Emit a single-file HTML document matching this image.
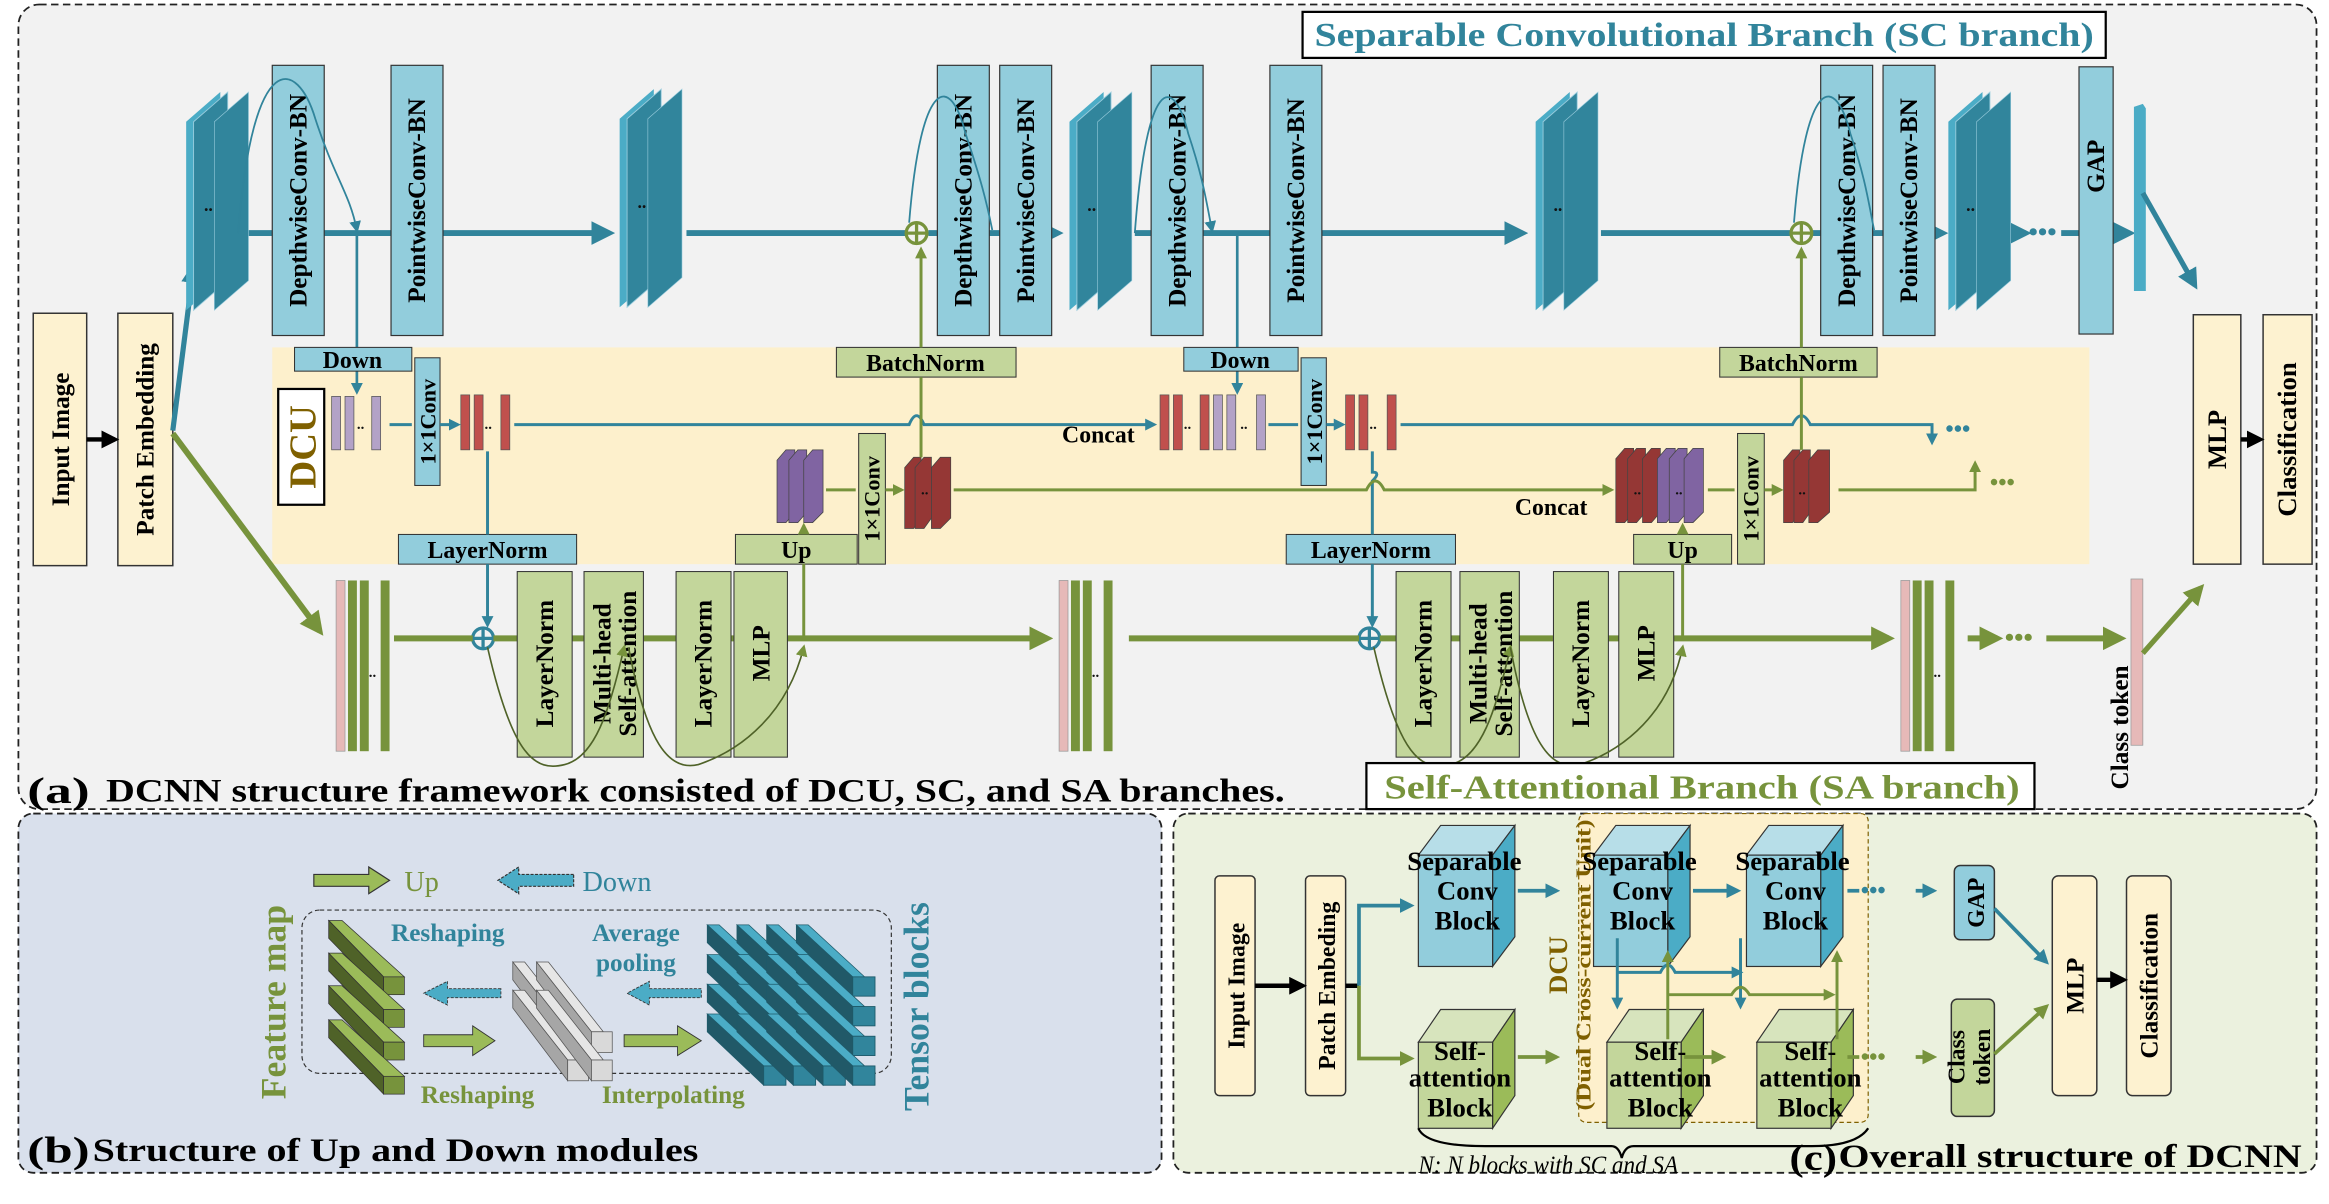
<!DOCTYPE html>
<html><head><meta charset="utf-8"><style>
html,body{margin:0;padding:0;background:#fff}
svg{display:block}
text{font-family:"Liberation Serif",serif;font-weight:bold}
</style></head><body>
<svg width="2329" height="1204" viewBox="0 0 1568 811" xmlns="http://www.w3.org/2000/svg">
<defs>
<marker id="at" markerWidth="4" markerHeight="4" refX="3" refY="2" orient="auto" markerUnits="strokeWidth"><path d="M0,0 L4,2 L0,4 z" fill="#31849b"/></marker>
<marker id="ag" markerWidth="4" markerHeight="4" refX="3" refY="2" orient="auto" markerUnits="strokeWidth"><path d="M0,0 L4,2 L0,4 z" fill="#77933c"/></marker>
<marker id="ak" markerWidth="4" markerHeight="4" refX="3" refY="2" orient="auto" markerUnits="strokeWidth"><path d="M0,0 L4,2 L0,4 z" fill="#000"/></marker>
<marker id="ats" markerWidth="8" markerHeight="8" refX="6" refY="4" orient="auto" markerUnits="userSpaceOnUse"><path d="M0,0 L8,4 L0,8 z" fill="#31849b"/></marker>
<marker id="ags" markerWidth="8" markerHeight="8" refX="6" refY="4" orient="auto" markerUnits="userSpaceOnUse"><path d="M0,0 L8,4 L0,8 z" fill="#77933c"/></marker>
<g id="scst">
<polygon points="0,20 23,0 23,127 0,147" fill="#4bacc6"/>
<polygon points="5,20 28,0 28,127 5,147" fill="#31859c" stroke="#9cd" stroke-width="0.6"/>
<polygon points="19,20 42,0 42,127 19,147" fill="#31859c" stroke="#9cd" stroke-width="0.4"/>
<text x="12" y="80" font-size="12" fill="#111">..</text>
</g>
<g id="saSt">
<rect x="0" y="0" width="6" height="115" fill="#e6b9b8" stroke="#999" stroke-width="0.5"/>
<rect x="8" y="0" width="6" height="115" fill="#77933c"/>
<rect x="16" y="0" width="6" height="115" fill="#77933c"/>
<rect x="30" y="0" width="6" height="115" fill="#77933c"/>
<text x="22" y="65" font-size="10" fill="#111">..</text>
</g>
<g id="gbar">
<polygon points="0,0 9,0 51,38 37,38" fill="#9bbb59" stroke="#333" stroke-width="0.5"/>
<polygon points="0,0 37,38 37,50 0,12" fill="#4f6228" stroke="#333" stroke-width="0.5"/>
<rect x="37" y="38" width="14" height="12" fill="#77933c" stroke="#333" stroke-width="0.5"/>
</g>
<g id="wbar">
<polygon points="0,0 8,0 45,47 37,47" fill="#e6e6e6" stroke="#555" stroke-width="0.5"/>
<polygon points="0,0 37,47 37,61 0,12" fill="#a6a6a6" stroke="#555" stroke-width="0.5"/>
<rect x="37" y="47" width="14" height="14" fill="#d9d9d9" stroke="#555" stroke-width="0.5"/>
</g>
<g id="tbar">
<polygon points="0,0 8,0 46,35 38,35" fill="#4bacc6" stroke="#1e5a6a" stroke-width="0.5"/>
<polygon points="0,0 38,35 38,48 0,12" fill="#215968" stroke="#1e5a6a" stroke-width="0.5"/>
<rect x="38" y="35" width="15" height="13" fill="#31859c" stroke="#1e5a6a" stroke-width="0.6"/>
</g>
</defs>

<!-- Panel a -->
<rect x="12" y="3" width="1548" height="542" rx="14" fill="#f2f2f2" stroke="#222" stroke-dasharray="5,3" stroke-width="1.2"/>
<rect x="183" y="234" width="1224" height="146" fill="#fdf0cc"/>
<rect x="877" y="8" width="541" height="31" fill="#fff" stroke="#000" stroke-width="1.5"/>
<text x="885" y="31" font-size="23" fill="#31849b" textLength="525" lengthAdjust="spacingAndGlyphs">Separable Convolutional Branch (SC branch)</text>

<rect x="22" y="211" width="36" height="170" fill="#fdf2d0" stroke="#333"/>
<text transform="rotate(-90 40 296)" x="40" y="302" font-size="17" text-anchor="middle">Input Image</text>
<rect x="79" y="211" width="37" height="170" fill="#fdf2d0" stroke="#333"/>
<text transform="rotate(-90 97 296)" x="97" y="302" font-size="17" text-anchor="middle">Patch Embedding</text>
<line x1="58" y1="296" x2="77" y2="296" stroke="#000" stroke-width="3" marker-end="url(#ak)"/>
<line x1="116" y1="290" x2="130" y2="180" stroke="#31849b" stroke-width="3.5" marker-end="url(#at)"/>
<line x1="116" y1="292" x2="215" y2="425" stroke="#77933c" stroke-width="4" marker-end="url(#ag)"/>

<line x1="160" y1="157" x2="410" y2="157" stroke="#31849b" stroke-width="4" marker-end="url(#at)"/>
<line x1="462" y1="157" x2="610" y2="157" stroke="#31849b" stroke-width="4"/>
<line x1="625" y1="157" x2="712" y2="157" stroke="#31849b" stroke-width="4" marker-end="url(#at)"/>
<line x1="764" y1="157" x2="1025" y2="157" stroke="#31849b" stroke-width="4" marker-end="url(#at)"/>
<line x1="1078" y1="157" x2="1206" y2="157" stroke="#31849b" stroke-width="4"/>
<line x1="1220" y1="157" x2="1308" y2="157" stroke="#31849b" stroke-width="4" marker-end="url(#at)"/>
<line x1="1358" y1="157" x2="1364" y2="157" stroke="#31849b" stroke-width="4" marker-end="url(#at)"/>
<text x="1366" y="162" font-size="18" fill="#31849b">•••</text>
<line x1="1388" y1="157" x2="1400" y2="157" stroke="#31849b" stroke-width="4"/>
<line x1="1423" y1="157" x2="1434" y2="157" stroke="#31849b" stroke-width="4" marker-end="url(#at)"/>

<use href="#scst" x="125" y="62"/>
<use href="#scst" x="417" y="60"/>
<use href="#scst" x="720" y="62"/>
<use href="#scst" x="1034" y="62"/>
<use href="#scst" x="1312" y="62"/>

<g font-size="17">
<rect x="183" y="44" width="35" height="182" fill="#92cddc" stroke="#333" stroke-width="0.8"/>
<text transform="rotate(-90 200 135)" x="200" y="141" text-anchor="middle">DepthwiseConv-BN</text>
<rect x="263" y="44" width="35" height="182" fill="#92cddc" stroke="#333" stroke-width="0.8"/>
<text transform="rotate(-90 280 135)" x="280" y="141" text-anchor="middle">PointwiseConv-BN</text>
<rect x="631" y="44" width="35" height="182" fill="#92cddc" stroke="#333" stroke-width="0.8"/>
<text transform="rotate(-90 648 135)" x="648" y="141" text-anchor="middle">DepthwiseConv-BN</text>
<rect x="673" y="44" width="35" height="182" fill="#92cddc" stroke="#333" stroke-width="0.8"/>
<text transform="rotate(-90 690 135)" x="690" y="141" text-anchor="middle">PointwiseConv-BN</text>
<rect x="775" y="44" width="35" height="182" fill="#92cddc" stroke="#333" stroke-width="0.8"/>
<text transform="rotate(-90 792 135)" x="792" y="141" text-anchor="middle">DepthwiseConv-BN</text>
<rect x="855" y="44" width="35" height="182" fill="#92cddc" stroke="#333" stroke-width="0.8"/>
<text transform="rotate(-90 872 135)" x="872" y="141" text-anchor="middle">PointwiseConv-BN</text>
<rect x="1226" y="44" width="35" height="182" fill="#92cddc" stroke="#333" stroke-width="0.8"/>
<text transform="rotate(-90 1243 135)" x="1243" y="141" text-anchor="middle">DepthwiseConv-BN</text>
<rect x="1268" y="44" width="35" height="182" fill="#92cddc" stroke="#333" stroke-width="0.8"/>
<text transform="rotate(-90 1285 135)" x="1285" y="141" text-anchor="middle">PointwiseConv-BN</text>
<rect x="1400" y="45" width="23" height="180" fill="#92cddc" stroke="#333" stroke-width="0.8"/>
<text transform="rotate(-90 1411 112)" x="1411" y="118" text-anchor="middle">GAP</text>
</g>
<polygon points="1437,72 1443,70 1445,73 1445,196 1437,196" fill="#4bacc6"/>
<line x1="1443" y1="130" x2="1478" y2="192" stroke="#31849b" stroke-width="3.5" marker-end="url(#at)"/>

<g fill="none" stroke="#31849b" stroke-width="1.2">
<path d="M160,157 C170,30 200,40 212,80 C225,120 235,130 240,155" marker-end="url(#ats)"/>
<path d="M612,150 C620,50 640,50 650,90 C660,120 664,135 668,155"/>
<path d="M764,157 C772,50 790,50 800,90 C810,120 812,135 816,155" marker-end="url(#ats)"/>
<path d="M1208,150 C1216,50 1236,50 1246,90 C1256,120 1258,135 1262,155"/>
</g>
<line x1="240" y1="157" x2="240" y2="264" stroke="#31849b" stroke-width="1.8" marker-end="url(#ats)"/>
<line x1="833" y1="157" x2="833" y2="264" stroke="#31849b" stroke-width="1.8" marker-end="url(#ats)"/>

<g fill="none" stroke="#77933c" stroke-width="2.2">
<circle cx="617" cy="157" r="7"/><line x1="610" y1="157" x2="624" y2="157"/><line x1="617" y1="150" x2="617" y2="164"/>
<circle cx="1213" cy="157" r="7"/><line x1="1206" y1="157" x2="1220" y2="157"/><line x1="1213" y1="150" x2="1213" y2="164"/>
</g>
<g fill="none" stroke="#31849b" stroke-width="2.2">
<circle cx="325" cy="430" r="7"/><line x1="318" y1="430" x2="332" y2="430"/><line x1="325" y1="423" x2="325" y2="437"/>
<circle cx="922" cy="430" r="7"/><line x1="915" y1="430" x2="929" y2="430"/><line x1="922" y1="423" x2="922" y2="437"/>
</g>

<rect x="187" y="262" width="31" height="78" fill="#fff" stroke="#000" stroke-width="1.5"/>
<text transform="rotate(-90 203 301)" x="203" y="310" font-size="26" fill="#7f6000" text-anchor="middle">DCU</text>

<g font-size="16">
<rect x="198" y="234" width="79" height="16" fill="#92cddc" stroke="#333" stroke-width="0.7"/>
<text x="237" y="248" text-anchor="middle">Down</text>
<rect x="797" y="234" width="77" height="16" fill="#92cddc" stroke="#333" stroke-width="0.7"/>
<text x="835" y="248" text-anchor="middle">Down</text>
<rect x="563" y="234" width="121" height="20" fill="#c3d69b" stroke="#333" stroke-width="0.7"/>
<text x="623" y="250" text-anchor="middle">BatchNorm</text>
<rect x="1158" y="234" width="106" height="20" fill="#c3d69b" stroke="#333" stroke-width="0.7"/>
<text x="1211" y="250" text-anchor="middle">BatchNorm</text>
<rect x="268" y="360" width="120" height="20" fill="#92cddc" stroke="#333" stroke-width="0.7"/>
<text x="328" y="376" text-anchor="middle">LayerNorm</text>
<rect x="866" y="360" width="114" height="20" fill="#92cddc" stroke="#333" stroke-width="0.7"/>
<text x="923" y="376" text-anchor="middle">LayerNorm</text>
<rect x="495" y="360" width="82" height="20" fill="#c3d69b" stroke="#333" stroke-width="0.7"/>
<text x="536" y="376" text-anchor="middle">Up</text>
<rect x="1100" y="360" width="66" height="20" fill="#c3d69b" stroke="#333" stroke-width="0.7"/>
<text x="1133" y="376" text-anchor="middle">Up</text>
</g>
<g font-size="15">
<rect x="279" y="241" width="17" height="86" fill="#92cddc" stroke="#333" stroke-width="0.7"/>
<text transform="rotate(-90 288 284)" x="288" y="289" text-anchor="middle">1×1Conv</text>
<rect x="876" y="241" width="17" height="86" fill="#92cddc" stroke="#333" stroke-width="0.7"/>
<text transform="rotate(-90 885 284)" x="885" y="289" text-anchor="middle">1×1Conv</text>
<rect x="578" y="292" width="18" height="88" fill="#c3d69b" stroke="#333" stroke-width="0.7"/>
<text transform="rotate(-90 587 336)" x="587" y="341" text-anchor="middle">1×1Conv</text>
<rect x="1170" y="292" width="18" height="88" fill="#c3d69b" stroke="#333" stroke-width="0.7"/>
<text transform="rotate(-90 1179 336)" x="1179" y="341" text-anchor="middle">1×1Conv</text>
</g>

<g stroke="#555" stroke-width="0.5">
<rect x="223" y="267" width="6" height="36" fill="#b3a2c7"/><rect x="232" y="267" width="6" height="36" fill="#b3a2c7"/><rect x="250" y="267" width="6" height="36" fill="#b3a2c7"/>
<rect x="310" y="266" width="6" height="37" fill="#c0504d"/><rect x="319" y="266" width="6" height="37" fill="#c0504d"/><rect x="337" y="266" width="6" height="37" fill="#c0504d"/>
<rect x="781" y="266" width="6" height="37" fill="#c0504d"/><rect x="790" y="266" width="6" height="37" fill="#c0504d"/><rect x="808" y="266" width="6" height="37" fill="#c0504d"/><rect x="817" y="266" width="6" height="37" fill="#b3a2c7"/><rect x="826" y="266" width="6" height="37" fill="#b3a2c7"/><rect x="846" y="266" width="6" height="37" fill="#b3a2c7"/>
<rect x="906" y="266" width="6" height="37" fill="#c0504d"/><rect x="915" y="266" width="6" height="37" fill="#c0504d"/><rect x="934" y="266" width="6" height="37" fill="#c0504d"/>
</g>
<g font-size="10" fill="#111"><text x="240" y="289">..</text><text x="326" y="289">..</text><text x="797" y="289">..</text><text x="835" y="289">..</text><text x="922" y="289">..</text></g>
<g stroke="#444" stroke-width="0.5">
<polygon points="523,310 529,303 535,303 535,345 529,352 523,352" fill="#8064a2"/>
<polygon points="531,310 537,303 543,303 543,345 537,352 531,352" fill="#8064a2"/>
<polygon points="541,310 547,303 554,303 554,345 547,352 541,352" fill="#8064a2"/>
<polygon points="609,315 615,308 620,308 620,349 615,356 609,356" fill="#953735"/>
<polygon points="616,315 622,308 627,308 627,349 622,356 616,356" fill="#953735"/>
<polygon points="627,315 633,308 640,308 640,349 633,356 627,356" fill="#953735"/>
<polygon points="1088,309 1094,302 1100,302 1100,345 1094,352 1088,352" fill="#953735"/>
<polygon points="1096,309 1102,302 1108,302 1108,345 1102,352 1096,352" fill="#953735"/>
<polygon points="1106,309 1112,302 1118,302 1118,345 1112,352 1106,352" fill="#953735"/>
<polygon points="1116,309 1122,302 1128,302 1128,345 1122,352 1116,352" fill="#8064a2"/>
<polygon points="1124,309 1130,302 1136,302 1136,345 1130,352 1124,352" fill="#8064a2"/>
<polygon points="1134,309 1140,302 1147,302 1147,345 1140,352 1134,352" fill="#8064a2"/>
<polygon points="1201,310 1207,303 1212,303 1212,345 1207,352 1201,352" fill="#953735"/>
<polygon points="1208,310 1214,303 1219,303 1219,345 1214,352 1208,352" fill="#953735"/>
<polygon points="1218,310 1224,303 1232,303 1232,345 1224,352 1218,352" fill="#953735"/>
</g>
<g font-size="10" fill="#111"><text x="620" y="333">..</text><text x="1100" y="333">..</text><text x="1128" y="333">..</text><text x="1211" y="333">..</text></g>

<g fill="none" stroke="#31849b" stroke-width="2">
<line x1="262" y1="286" x2="277" y2="286"/>
<line x1="296" y1="286" x2="308" y2="286" marker-end="url(#ats)"/>
<path d="M346,286 L612,286 Q617,274 622,286 L777,286" marker-end="url(#ats)"/>
<line x1="854" y1="286" x2="874" y2="286"/>
<line x1="893" y1="286" x2="904" y2="286" marker-end="url(#ats)"/>
<path d="M943,286 L1207,286 Q1213,274 1219,286 L1301,286 L1301,298" marker-end="url(#ats)"/>
<path d="M328,304 L328,360"/>
<path d="M328,380 L328,421" marker-end="url(#ats)"/>
<path d="M924,304 L924,318 Q930,318 924,324 L924,360"/>
<path d="M924,380 L924,421" marker-end="url(#ats)"/>
</g>
<g fill="none" stroke="#77933c" stroke-width="2">
<path d="M556,330 L576,330"/>
<line x1="596" y1="330" x2="607" y2="330" marker-end="url(#ags)"/>
<path d="M642,330 L920,330 Q926,318 932,330 L1085,330" marker-end="url(#ags)"/>
<line x1="1150" y1="330" x2="1168" y2="330"/>
<line x1="1188" y1="330" x2="1199" y2="330" marker-end="url(#ags)"/>
<path d="M1238,330 L1330,330 L1330,312" marker-end="url(#ags)"/>
<path d="M620,308 L620,254"/>
<path d="M620,234 L620,168" marker-end="url(#ags)"/>
<path d="M1213,303 L1213,254"/>
<path d="M1213,234 L1213,168" marker-end="url(#ags)"/>
<path d="M541,430 L541,380"/>
<path d="M541,360 L541,354" marker-end="url(#ags)"/>
<path d="M1133,430 L1133,380"/>
<path d="M1133,360 L1133,354" marker-end="url(#ags)"/>
</g>
<text x="1310" y="294" font-size="16" fill="#31849b">•••</text>
<text x="1340" y="330" font-size="16" fill="#77933c">•••</text>
<text x="715" y="298" font-size="16">Concat</text>
<text x="1020" y="347" font-size="16">Concat</text>

<line x1="265" y1="430" x2="318" y2="430" stroke="#77933c" stroke-width="4"/>
<line x1="332" y1="430" x2="705" y2="430" stroke="#77933c" stroke-width="4" marker-end="url(#ag)"/>
<line x1="760" y1="430" x2="915" y2="430" stroke="#77933c" stroke-width="4"/>
<line x1="929" y1="430" x2="1272" y2="430" stroke="#77933c" stroke-width="4" marker-end="url(#ag)"/>
<line x1="1325" y1="430" x2="1345" y2="430" stroke="#77933c" stroke-width="4" marker-end="url(#ag)"/>
<text x="1350" y="435" font-size="18" fill="#77933c">•••</text>
<line x1="1378" y1="430" x2="1428" y2="430" stroke="#77933c" stroke-width="4" marker-end="url(#ag)"/>
<use href="#saSt" x="226" y="391"/>
<use href="#saSt" x="713" y="391"/>
<use href="#saSt" x="1280" y="391"/>
<rect x="1435" y="390" width="8" height="112" fill="#e6b9b8" stroke="#999" stroke-width="0.5"/>
<line x1="1443" y1="440" x2="1482" y2="396" stroke="#77933c" stroke-width="3.5" marker-end="url(#ag)"/>
<text transform="rotate(-90 1427 490)" x="1427" y="496" font-size="17" text-anchor="middle">Class token</text>

<g font-size="17">
<rect x="348" y="385" width="37" height="125" fill="#c3d69b" stroke="#333" stroke-width="0.7"/>
<text transform="rotate(-90 366 447)" x="366" y="453" text-anchor="middle">LayerNorm</text>
<rect x="393" y="385" width="40" height="125" fill="#c3d69b" stroke="#333" stroke-width="0.7"/>
<text transform="rotate(-90 413 447)" x="413" y="445" text-anchor="middle">Multi-head</text>
<text transform="rotate(-90 413 447)" x="413" y="462" text-anchor="middle">Self-attention</text>
<rect x="455" y="385" width="37" height="125" fill="#c3d69b" stroke="#333" stroke-width="0.7"/>
<text transform="rotate(-90 473 447)" x="473" y="453" text-anchor="middle">LayerNorm</text>
<rect x="494" y="385" width="36" height="125" fill="#c3d69b" stroke="#333" stroke-width="0.7"/>
<text transform="rotate(-90 512 440)" x="512" y="446" text-anchor="middle">MLP</text>
<rect x="940" y="385" width="37" height="125" fill="#c3d69b" stroke="#333" stroke-width="0.7"/>
<text transform="rotate(-90 958 447)" x="958" y="453" text-anchor="middle">LayerNorm</text>
<rect x="983" y="385" width="40" height="125" fill="#c3d69b" stroke="#333" stroke-width="0.7"/>
<text transform="rotate(-90 1003 447)" x="1003" y="445" text-anchor="middle">Multi-head</text>
<text transform="rotate(-90 1003 447)" x="1003" y="462" text-anchor="middle">Self-attention</text>
<rect x="1046" y="385" width="37" height="125" fill="#c3d69b" stroke="#333" stroke-width="0.7"/>
<text transform="rotate(-90 1064 447)" x="1064" y="453" text-anchor="middle">LayerNorm</text>
<rect x="1090" y="385" width="37" height="125" fill="#c3d69b" stroke="#333" stroke-width="0.7"/>
<text transform="rotate(-90 1108 440)" x="1108" y="446" text-anchor="middle">MLP</text>
</g>
<g fill="none" stroke="#4f6228" stroke-width="1.1">
<path d="M328,436 C345,510 360,520 380,515 C400,510 410,480 420,436" marker-end="url(#ags)"/>
<path d="M423,436 C435,500 450,520 470,515 C500,505 530,480 541,436" marker-end="url(#ags)"/>
<path d="M925,436 C942,510 957,520 977,515 C997,510 1007,480 1017,436" marker-end="url(#ags)"/>
<path d="M1017,436 C1029,500 1044,520 1064,515 C1094,505 1124,480 1133,436" marker-end="url(#ags)"/>
</g>

<rect x="1477" y="212" width="32" height="168" fill="#fdf2d0" stroke="#333"/>
<text transform="rotate(-90 1493 296)" x="1493" y="302" font-size="18" text-anchor="middle">MLP</text>
<rect x="1524" y="212" width="33" height="168" fill="#fdf2d0" stroke="#333"/>
<text transform="rotate(-90 1540 296)" x="1540" y="302" font-size="18" text-anchor="middle">Classification</text>
<line x1="1509" y1="296" x2="1522" y2="296" stroke="#000" stroke-width="3" marker-end="url(#ak)"/>

<rect x="920" y="514" width="450" height="31" fill="#fff" stroke="#000" stroke-width="1.5"/>
<text x="932" y="538" font-size="23" fill="#77933c" textLength="428" lengthAdjust="spacingAndGlyphs">Self-Attentional Branch (SA branch)</text>
<text x="18" y="541" font-size="25" textLength="42" lengthAdjust="spacingAndGlyphs">(a)</text>
<text x="71" y="540" font-size="22" textLength="794" lengthAdjust="spacingAndGlyphs">DCNN structure framework consisted of DCU, SC, and SA branches.</text>

<!-- Panel b -->
<rect x="12" y="548" width="770" height="242" rx="10" fill="#d9e0ec" stroke="#222" stroke-dasharray="5,3" stroke-width="1.2"/>
<rect x="203" y="613" width="397" height="110" rx="12" fill="none" stroke="#333" stroke-dasharray="3,2" stroke-width="0.8"/>
<polygon points="211,589 248,589 248,584 262,593 248,602 248,597 211,597" fill="#9bbb59" stroke="#333" stroke-width="0.8"/>
<text x="272" y="600" font-size="19" fill="#77933c" style="font-weight:normal">Up</text>
<polygon points="386,589 349,589 349,584 335,593 349,602 349,597 386,597" fill="#4bacc6" stroke="#333" stroke-width="0.8" stroke-dasharray="2,1"/>
<text x="392" y="600" font-size="19" fill="#31849b" style="font-weight:normal">Down</text>
<text transform="rotate(-90 184 675)" x="184" y="683" font-size="24" fill="#77933c" text-anchor="middle">Feature map</text>
<text transform="rotate(-90 617 678)" x="617" y="686" font-size="24" fill="#31849b" text-anchor="middle">Tensor blocks</text>
<use href="#gbar" x="221" y="620"/>
<use href="#gbar" x="221" y="642"/>
<use href="#gbar" x="221" y="664"/>
<use href="#gbar" x="221" y="687"/>
<use href="#wbar" x="345" y="648"/>
<use href="#wbar" x="361" y="648"/>
<use href="#wbar" x="345" y="667"/>
<use href="#wbar" x="361" y="667"/>
<g>
<use href="#tbar" x="476" y="623"/><use href="#tbar" x="496" y="623"/><use href="#tbar" x="516" y="623"/><use href="#tbar" x="536" y="623"/>
<use href="#tbar" x="476" y="643"/><use href="#tbar" x="496" y="643"/><use href="#tbar" x="516" y="643"/><use href="#tbar" x="536" y="643"/>
<use href="#tbar" x="476" y="663"/><use href="#tbar" x="496" y="663"/><use href="#tbar" x="516" y="663"/><use href="#tbar" x="536" y="663"/>
<use href="#tbar" x="476" y="683"/><use href="#tbar" x="496" y="683"/><use href="#tbar" x="516" y="683"/><use href="#tbar" x="536" y="683"/>
</g>
<g font-size="17">
<text x="263" y="634" fill="#31849b">Reshaping</text>
<text x="428" y="634" fill="#31849b" text-anchor="middle">Average</text>
<text x="428" y="654" fill="#31849b" text-anchor="middle">pooling</text>
<text x="283" y="743" fill="#77933c">Reshaping</text>
<text x="405" y="743" fill="#77933c">Interpolating</text>
</g>
<polygon points="337,666 301,666 301,661 285,669 301,677 301,672 337,672" fill="#4bacc6" stroke="#333" stroke-width="0.6" stroke-dasharray="2,1"/>
<polygon points="472,666 437,666 437,661 422,669 437,677 437,672 472,672" fill="#4bacc6" stroke="#333" stroke-width="0.6" stroke-dasharray="2,1"/>
<polygon points="285,697 318,697 318,691 333,701 318,711 318,705 285,705" fill="#9bbb59" stroke="#333" stroke-width="0.6"/>
<polygon points="420,697 456,697 456,691 472,701 456,711 456,705 420,705" fill="#9bbb59" stroke="#333" stroke-width="0.6"/>
<text x="18" y="783" font-size="25" textLength="42" lengthAdjust="spacingAndGlyphs">(b)</text>
<text x="62" y="782" font-size="22" textLength="408" lengthAdjust="spacingAndGlyphs">Structure of Up and Down modules</text>

<!-- Panel c -->
<rect x="790" y="548" width="770" height="242" rx="10" fill="#ebf1de" stroke="#222" stroke-dasharray="5,3" stroke-width="1.2"/>
<rect x="1063" y="548" width="195" height="208" rx="5" fill="#fdf0cc" stroke="#7f6000" stroke-dasharray="3,2" stroke-width="0.8"/>
<text transform="rotate(-90 1049 650)" x="1049" y="656" font-size="18" fill="#7f6000" text-anchor="middle">DCU</text>
<text transform="rotate(-90 1066 650)" x="1066" y="655" font-size="14" fill="#7f6000" text-anchor="middle" textLength="196" lengthAdjust="spacingAndGlyphs">(Dual Cross-current Unit)</text>
<rect x="818" y="590" width="27" height="148" rx="3" fill="#fdf2d0" stroke="#333"/>
<text transform="rotate(-90 832 664)" x="832" y="670" font-size="16" text-anchor="middle">Input Image</text>
<rect x="879" y="590" width="27" height="148" rx="3" fill="#fdf2d0" stroke="#333"/>
<text transform="rotate(-90 893 664)" x="893" y="670" font-size="16" text-anchor="middle">Patch Embeding</text>
<line x1="845" y1="664" x2="877" y2="664" stroke="#000" stroke-width="3" marker-end="url(#ak)"/>
<line x1="906" y1="664" x2="915" y2="664" stroke="#000" stroke-width="3"/>
<path d="M915,664 L915,610 L950,610" fill="none" stroke="#31849b" stroke-width="2.5" marker-end="url(#at)"/>
<path d="M915,664 L915,713 L950,713" fill="none" stroke="#77933c" stroke-width="2.5" marker-end="url(#ag)"/>

<g font-size="18" stroke-width="0.8" style="font-weight:normal">
<g transform="translate(955,556)"><polygon points="0,20 15,0 65,0 50,20" fill="#b7dee8" stroke="#333"/><polygon points="50,20 65,0 65,75 50,95" fill="#4bacc6" stroke="#333"/><rect x="0" y="20" width="50" height="75" fill="#92cddc" stroke="#333"/><text x="31" y="30" text-anchor="middle" stroke="none">Separable</text><text x="33" y="50" text-anchor="middle" stroke="none">Conv</text><text x="33" y="70" text-anchor="middle" stroke="none">Block</text></g>
<g transform="translate(1073,556)"><polygon points="0,20 15,0 65,0 50,20" fill="#b7dee8" stroke="#333"/><polygon points="50,20 65,0 65,75 50,95" fill="#4bacc6" stroke="#333"/><rect x="0" y="20" width="50" height="75" fill="#92cddc" stroke="#333"/><text x="31" y="30" text-anchor="middle" stroke="none">Separable</text><text x="33" y="50" text-anchor="middle" stroke="none">Conv</text><text x="33" y="70" text-anchor="middle" stroke="none">Block</text></g>
<g transform="translate(1176,556)"><polygon points="0,20 15,0 65,0 50,20" fill="#b7dee8" stroke="#333"/><polygon points="50,20 65,0 65,75 50,95" fill="#4bacc6" stroke="#333"/><rect x="0" y="20" width="50" height="75" fill="#92cddc" stroke="#333"/><text x="31" y="30" text-anchor="middle" stroke="none">Separable</text><text x="33" y="50" text-anchor="middle" stroke="none">Conv</text><text x="33" y="70" text-anchor="middle" stroke="none">Block</text></g>
<g transform="translate(955,680)"><polygon points="0,22 15,0 65,0 50,22" fill="#d7e4bd" stroke="#333"/><polygon points="50,22 65,0 65,58 50,80" fill="#9bbb59" stroke="#333"/><rect x="0" y="22" width="50" height="58" fill="#c3d69b" stroke="#333"/><text x="28" y="34" text-anchor="middle" stroke="none">Self-</text><text x="28" y="52" text-anchor="middle" stroke="none">attention</text><text x="28" y="72" text-anchor="middle" stroke="none">Block</text></g>
<g transform="translate(1082,680)"><polygon points="0,22 15,0 65,0 50,22" fill="#d7e4bd" stroke="#333"/><polygon points="50,22 65,0 65,58 50,80" fill="#9bbb59" stroke="#333"/><rect x="0" y="22" width="50" height="58" fill="#c3d69b" stroke="#333"/><text x="36" y="34" text-anchor="middle" stroke="none">Self-</text><text x="36" y="52" text-anchor="middle" stroke="none">attention</text><text x="36" y="72" text-anchor="middle" stroke="none">Block</text></g>
<g transform="translate(1183,680)"><polygon points="0,22 15,0 65,0 50,22" fill="#d7e4bd" stroke="#333"/><polygon points="50,22 65,0 65,58 50,80" fill="#9bbb59" stroke="#333"/><rect x="0" y="22" width="50" height="58" fill="#c3d69b" stroke="#333"/><text x="36" y="34" text-anchor="middle" stroke="none">Self-</text><text x="36" y="52" text-anchor="middle" stroke="none">attention</text><text x="36" y="72" text-anchor="middle" stroke="none">Block</text></g>
</g>
<g fill="none" stroke-width="2.5">
<line x1="1022" y1="600" x2="1048" y2="600" stroke="#31849b" marker-end="url(#at)"/>
<line x1="1140" y1="600" x2="1170" y2="600" stroke="#31849b" marker-end="url(#at)"/>
<line x1="1022" y1="712" x2="1048" y2="712" stroke="#77933c" marker-end="url(#ag)"/>
<line x1="1134" y1="712" x2="1160" y2="712" stroke="#77933c" marker-end="url(#ag)"/>
<line x1="1244" y1="600" x2="1252" y2="600" stroke="#31849b"/>
<line x1="1290" y1="600" x2="1302" y2="600" stroke="#31849b" marker-end="url(#at)"/>
<line x1="1244" y1="712" x2="1252" y2="712" stroke="#77933c"/>
<line x1="1290" y1="712" x2="1302" y2="712" stroke="#77933c" marker-end="url(#ag)"/>
</g>
<text x="1253" y="605" font-size="16" fill="#31849b">•••</text>
<text x="1253" y="717" font-size="16" fill="#77933c">•••</text>
<g fill="none" stroke-width="2">
<path d="M1089,632 L1089,678" stroke="#31849b" marker-end="url(#ats)"/>
<path d="M1089,655 L1118,655 Q1123,645 1128,655 L1172,655" stroke="#31849b" marker-end="url(#ats)"/>
<path d="M1172,632 L1172,678" stroke="#31849b" marker-end="url(#ats)"/>
<path d="M1123,700 L1123,642" stroke="#77933c" marker-end="url(#ags)"/>
<path d="M1123,670 L1166,670 Q1172,660 1178,670 L1234,670" stroke="#77933c" marker-end="url(#ags)"/>
<path d="M1237,700 L1237,642" stroke="#77933c" marker-end="url(#ags)"/>
</g>
<rect x="1316" y="583" width="27" height="50" rx="4" fill="#92cddc" stroke="#333"/>
<text transform="rotate(-90 1330 608)" x="1330" y="614" font-size="16" text-anchor="middle">GAP</text>
<rect x="1314" y="673" width="29" height="79" rx="4" fill="#c3d69b" stroke="#333"/>
<text transform="rotate(-90 1328 712)" x="1328" y="707" font-size="16" text-anchor="middle">Class</text>
<text transform="rotate(-90 1328 712)" x="1328" y="724" font-size="16" text-anchor="middle">token</text>
<line x1="1343" y1="612" x2="1378" y2="648" stroke="#31849b" stroke-width="2.5" marker-end="url(#at)"/>
<line x1="1343" y1="710" x2="1378" y2="678" stroke="#77933c" stroke-width="2.5" marker-end="url(#ag)"/>
<rect x="1382" y="590" width="30" height="148" rx="4" fill="#fdf2d0" stroke="#333"/>
<text transform="rotate(-90 1397 664)" x="1397" y="670" font-size="17" text-anchor="middle">MLP</text>
<rect x="1432" y="590" width="30" height="148" rx="4" fill="#fdf2d0" stroke="#333"/>
<text transform="rotate(-90 1447 664)" x="1447" y="670" font-size="17" text-anchor="middle">Classification</text>
<line x1="1412" y1="660" x2="1430" y2="660" stroke="#000" stroke-width="3" marker-end="url(#ak)"/>
<path d="M955,760 Q960,772 1000,772 L1085,772 Q1090,772 1092,780 Q1094,772 1100,772 L1220,772 Q1250,772 1258,760" fill="none" stroke="#000" stroke-width="1.5"/>
<text x="955" y="790" font-size="17" font-style="italic" style="font-weight:normal" textLength="175" lengthAdjust="spacingAndGlyphs">N: N blocks with SC and SA</text>
<text x="1205" y="788" font-size="25" textLength="32" lengthAdjust="spacingAndGlyphs">(c)</text>
<text x="1238" y="786" font-size="22" textLength="312" lengthAdjust="spacingAndGlyphs">Overall structure of DCNN</text>
</svg>
</body></html>
